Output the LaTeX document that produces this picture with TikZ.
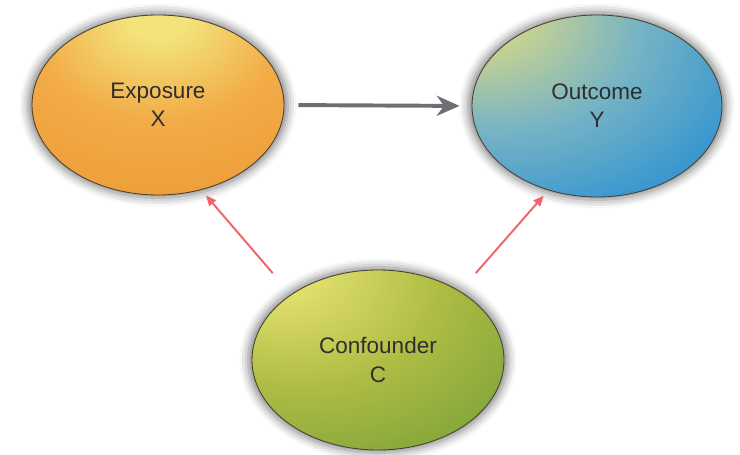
\documentclass[tikz,border=0pt]{standalone}
\usepackage{fontspec}
\setmainfont{Liberation Sans}
\usetikzlibrary{arrows.meta,shapes.geometric,shadows.blur}

% colours
\definecolor{txtgray}{HTML}{2E2E2E}
\definecolor{bordercol}{HTML}{4A4030}
\definecolor{arrowgray}{HTML}{6E6E74}
\definecolor{arrowred}{HTML}{F0646E}
\definecolor{expHi}{HTML}{F3E37A}
\definecolor{expMid}{HTML}{F2AC48}
\definecolor{expLo}{HTML}{EA942E}
\definecolor{outHi}{HTML}{E4DE7E}
\definecolor{outMid}{HTML}{78B4C4}
\definecolor{outLo}{HTML}{1688D6}
\definecolor{conHi}{HTML}{E8E472}
\definecolor{conMid}{HTML}{AEBC44}
\definecolor{conLo}{HTML}{5E9432}

% shadings with an off-centre highlight
\pgfdeclareradialshading{exposureshade}{\pgfpoint{0bp}{26bp}}{color(0bp)=(expHi); color(6bp)=(expHi); color(24bp)=(expMid); color(55bp)=(expLo); color(100bp)=(expLo)}
\pgfdeclareradialshading{outcomeshade}{\pgfpoint{-28bp}{30bp}}{color(0bp)=(outHi); color(5bp)=(outHi); color(28bp)=(outMid); color(56bp)=(outLo); color(100bp)=(outLo)}
\pgfdeclareradialshading{confoundershade}{\pgfpoint{-22bp}{28bp}}{color(0bp)=(conHi); color(5bp)=(conHi); color(28bp)=(conMid); color(62bp)=(conLo); color(100bp)=(conLo)}

\tikzset{
  bubble/.style={ellipse, draw=bordercol, line width=0.6pt,
    minimum width=6.3cm, minimum height=4.5cm, align=center,
    text=txtgray, font=\fontsize{16}{20}\selectfont,
    blur shadow={shadow xshift=0pt, shadow yshift=0pt,
      shadow blur radius=6pt, shadow opacity=50, shadow scale=1.03}},
  mainarrow/.style={-{Stealth[length=0.57cm,width=0.5cm,inset=0.18cm]},
    line width=2.8pt, draw=arrowgray},
  confarrow/.style={-{Triangle[length=0.26cm,width=0.22cm]},
    line width=1.4pt, draw=arrowred},
}

\begin{document}
\begin{tikzpicture}
  % page frame
  \useasboundingbox (0,0) rectangle (18.5,11.375);

  % the three variables
  \node[bubble, shading=exposureshade] (exp) at (3.95,8.75) {Exposure\\X};
  \node[bubble, shading=outcomeshade, minimum width=6.25cm, minimum height=4.55cm] (out) at (14.925,8.725) {Outcome\\Y};
  \node[bubble, shading=confoundershade] (conf) at (9.45,2.375) {Confounder\\C};

  % causal path X -> Y
  \draw[mainarrow, shorten <=0.35cm, shorten >=0.3cm] (exp.east) -- (out.west);

  % confounding paths C -> X, C -> Y
  \draw[confarrow, shorten <=0.7cm, shorten >=0.18cm] (conf.143) -- (exp.-63);
  \draw[confarrow, shorten <=0.6cm, shorten >=0.18cm] (conf.40) -- (out.-120);
\end{tikzpicture}
\end{document}
